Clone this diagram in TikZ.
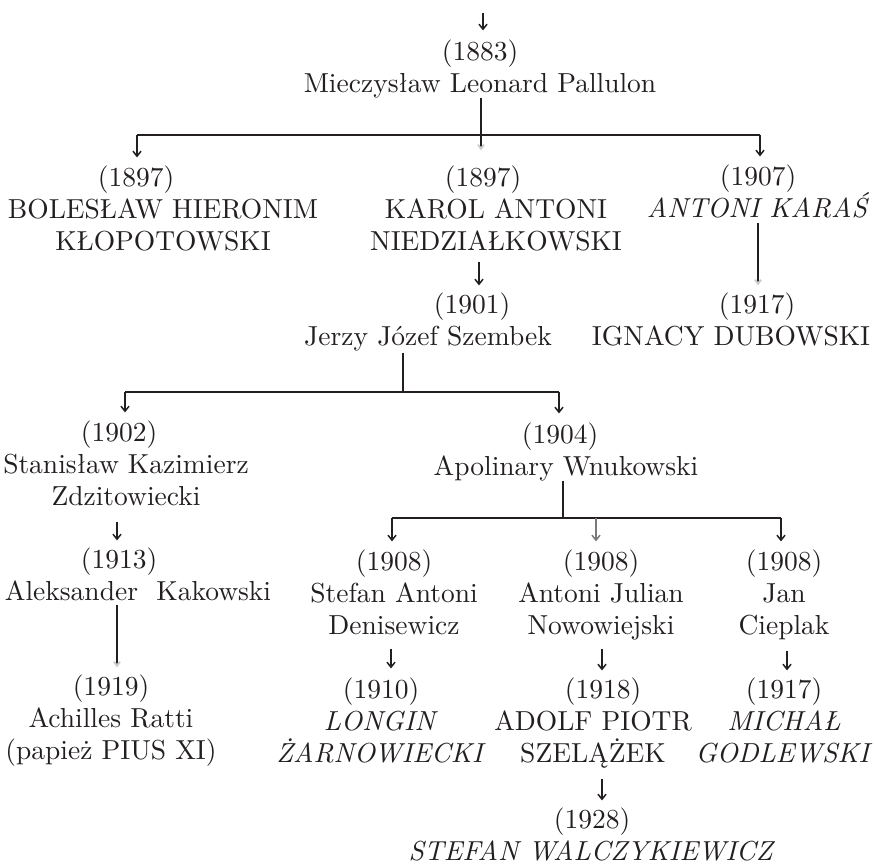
\documentclass[tikz,border=0pt]{standalone}
\usepackage{fontspec}
\setmainfont{lmroman10-regular.otf}[ItalicFont=lmroman10-italic.otf,BoldFont=lmroman10-bold.otf]
\usetikzlibrary{arrows.meta}
\definecolor{ink}{RGB}{35,31,32}
\begin{document}
\begin{tikzpicture}[x=1pt,y=-1pt,
  person/.style={align=center,inner sep=0pt,anchor=north,text=ink,font=\fontsize{27.5}{32}\selectfont},
  barline/.style={draw=ink,line width=2.8pt},
  stem/.style={draw=ink,line width=2.3pt},
  arr/.style={draw=ink,line width=1.5pt,-{Straight Barb[length=5pt,width=8pt]}},
  faint/.style={draw=ink,line width=2pt,-{Straight Barb[length=4pt,width=6pt,color=gray!40]}},
]
\useasboundingbox (0,0) rectangle (874,866);

% people
\node[person] (pallulon) at (480,39.4) {(1883)\\Mieczysław Leonard Pallulon};
\node[person] (bol) at (163,165.4) {(1897)\hspace*{54pt}\\BOLESŁAW HIERONIM\\KŁOPOTOWSKI};
\node[person] (karol) at (496,165.4) {(1897)\hspace*{26pt}\\KAROL ANTONI\\NIEDZIAŁKOWSKI};
\node[person] (karas) at (758,164.4) {(1907)\\\textit{ANTONI KARAŚ}};
\node[person] (szembek) at (428,292.4) {\hspace*{88pt}(1901)\\Jerzy Józef Szembek};
\node[person] (dubowski) at (731,292.4) {\hspace*{52pt}(1917)\\IGNACY DUBOWSKI};
\node[person] (zdzit) at (126,420.4) {(1902)\hspace*{14pt}\\Stanisław Kazimierz\\Zdzitowiecki};
\node[person] (wnuk) at (566,422.4) {(1904)\hspace*{12pt}\\Apolinary Wnukowski};
\node[person] (kakowski) at (138,547.4) {(1913)\hspace*{38pt}\\Aleksander\ \ Kakowski};
\node[person] (denis) at (394,549.4) {(1908)\\Stefan Antoni\\Denisewicz};
\node[person] (nowow) at (601,549.4) {(1908)\\Antoni Julian\\Nowowiejski};
\node[person] (cieplak) at (784,549.4) {(1908)\\Jan\\Cieplak};
\node[person] (ratti) at (111,674.4) {(1919)\\Achilles Ratti\\(papież PIUS XI)};
\node[person] (zarn) at (381,677.4) {(1910)\\\textit{LONGIN}\\\textit{ŻARNOWIECKI}};
\node[person] (szel) at (593,677.4) {\hspace*{20pt}(1918)\\ADOLF PIOTR\\SZELĄŻEK};
\node[person] (godl) at (784,677.4) {(1917)\\\textit{MICHAŁ}\\\textit{GODLEWSKI}};
\node[person] (walcz) at (592,807.4) {(1928)\\\textit{STEFAN WALCZYKIEWICZ}};

% top arrow
\coordinate (top) at (483,13);
\draw[arr,shorten >=9pt] (top) -- (pallulon.north -| top);

% Pallulon's branch
\coordinate (j1) at (481,135);
\coordinate (l1) at (137,135);
\coordinate (r1) at (760,135);
\draw[stem] (pallulon.south -| j1) -- (j1);
\draw[barline] (l1) -- (r1);
\draw[arr,shorten >=8pt] (l1) -- (l1 |- bol.north);
\draw[faint,shorten >=15pt] (j1) -- (j1 |- karol.north);
\draw[arr,shorten >=8pt] (r1) -- (r1 |- karas.north);

% Karol -> Szembek
\coordinate (x2) at (479,0);
\draw[arr,shorten <=11pt,shorten >=7pt] (karol.south -| x2) -- (szembek.north -| x2);

% Karas -> Dubowski
\draw[faint,shorten <=5pt,shorten >=7pt] (karas.south) -- (karas.south |- dubowski.north);

% Szembek's branch
\coordinate (j2) at (403,392);
\coordinate (l2) at (125,392);
\coordinate (r2) at (559,392);
\draw[stem,shorten <=2pt] (szembek.south -| j2) -- (j2);
\draw[barline] (l2) -- (r2);
\draw[arr,shorten >=8pt] (l2) -- (l2 |- zdzit.north);
\draw[arr,shorten >=9pt] (r2) -- (r2 |- wnuk.north);

% Zdzitowiecki -> Kakowski -> Ratti
\coordinate (x5) at (117,0);
\draw[arr,shorten <=16pt,shorten >=7pt] (zdzit.south -| x5) -- (kakowski.north -| x5);
\draw[faint,shorten <=4pt,shorten >=7pt] (kakowski.south -| x5) -- (ratti.north -| x5);

% Wnukowski's branch
\coordinate (j3) at (563,518);
\coordinate (l3) at (392,518);
\coordinate (m3) at (596,518);
\coordinate (r3) at (781,518);
\draw[stem] (wnuk.south -| j3) -- (j3);
\draw[barline] (l3) -- (r3);
\draw[arr,shorten >=8pt] (l3) -- (l3 |- denis.north);
\draw[arr,draw=ink!60,shorten >=8pt] (m3) -- (m3 |- nowow.north);
\draw[arr,shorten >=8pt] (r3) -- (r3 |- cieplak.north);

% lower arrows
\coordinate (x8) at (391,0);
\coordinate (x9) at (602,0);
\coordinate (x10) at (787,0);
\draw[arr,shorten <=14pt,shorten >=9pt] (denis.south -| x8) -- (zarn.north -| x8);
\draw[arr,shorten <=9pt,shorten >=7pt] (nowow.south -| x9) -- (szel.north -| x9);
\draw[arr,shorten <=11pt,shorten >=7pt] (cieplak.south -| x10) -- (godl.north -| x10);
\draw[arr,shorten <=11pt,shorten >=7pt] (szel.south -| x9) -- (walcz.north -| x9);
\end{tikzpicture}
\end{document}
